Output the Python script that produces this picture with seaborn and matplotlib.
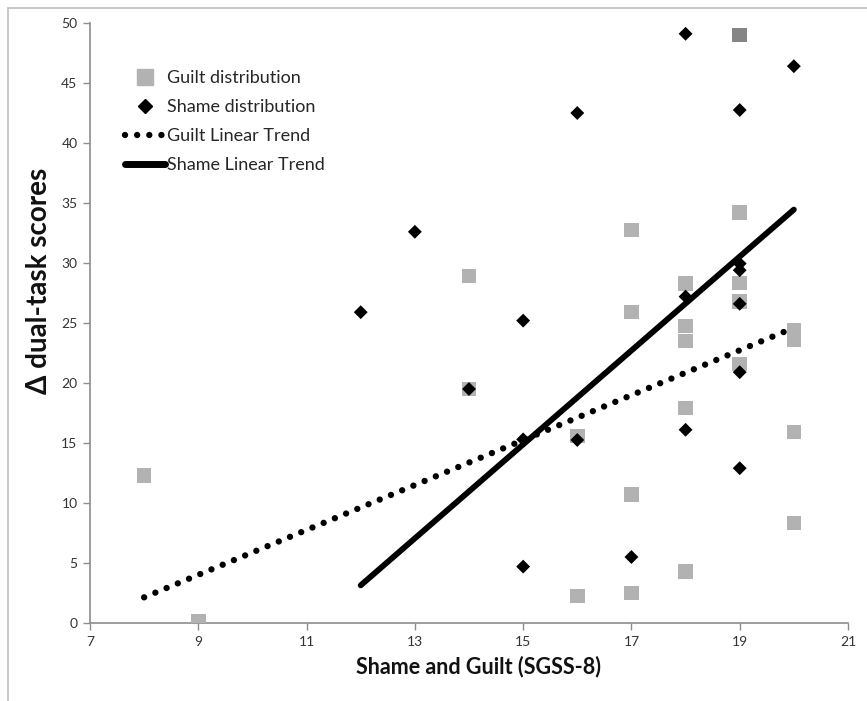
import numpy as np
import pandas as pd
import matplotlib
matplotlib.use("Agg")
import matplotlib.pyplot as plt
from matplotlib.lines import Line2D
import seaborn as sns

# ---- data ----
guilt_x = [8, 9, 14, 14, 16, 16, 17, 17, 17, 17, 18, 18, 18, 18, 18,
           19, 19, 19, 19, 19, 20, 20, 20, 20]
guilt_y = [12.3, 0.15, 28.9, 19.5, 15.6, 2.25, 32.75, 25.9, 10.7, 2.5,
           28.3, 24.75, 23.5, 17.9, 4.3, 49.0, 34.2, 28.35, 26.8, 21.6,
           24.4, 23.6, 15.9, 8.35]

shame_x = [12, 13, 14, 15, 15, 15, 16, 16, 17, 18, 18, 18,
           19, 19, 19, 19, 19, 19, 20]
shame_y = [25.9, 32.6, 19.5, 25.2, 15.3, 4.7, 42.5, 15.25, 5.5, 49.1,
           27.2, 16.1, 42.75, 29.95, 29.4, 26.6, 20.9, 12.9, 46.4]

guilt_trend_x = [8, 20]
guilt_trend_y = [2.14, 24.6]
shame_trend_x = [12, 20]
shame_trend_y = [3.14, 34.45]

x_ticks = [7, 9, 11, 13, 15, 17, 19, 21]
y_ticks = [0, 5, 10, 15, 20, 25, 30, 35, 40, 45, 50]

x_label = "Shame and Guilt (SGSS-8)"
y_label = "\u0394 dual-task scores"
labels = ["Guilt distribution", "Shame distribution",
          "Guilt Linear Trend", "Shame Linear Trend"]

# ---- plotting ----
sns.set_theme(style="white")
plt.rcParams["font.family"] = ["Lato", "DejaVu Sans"]

fig = plt.figure(figsize=(8.67, 7.01), dpi=100)
ax = fig.add_axes([90 / 867, 1 - 623 / 701, 758 / 867, 600 / 701])

gdf = pd.DataFrame({"x": guilt_x, "y": guilt_y})
sdf = pd.DataFrame({"x": shame_x, "y": shame_y})
gtdf = pd.DataFrame({"x": guilt_trend_x, "y": guilt_trend_y})
stdf = pd.DataFrame({"x": shame_trend_x, "y": shame_trend_y})

dot_style = (0, (0.001, 1.9))

sns.scatterplot(data=gdf, x="x", y="y", ax=ax, marker="s", s=110,
                color="#b2b2b2", edgecolor="none", linewidth=0,
                legend=False, zorder=3)
# darker rendering of the top guilt point at (19, 49)
top = gdf[gdf["y"] == gdf["y"].max()]
sns.scatterplot(data=top, x="x", y="y", ax=ax, marker="s", s=110,
                color="#858585", edgecolor="none", linewidth=0,
                legend=False, zorder=3)
sns.scatterplot(data=sdf, x="x", y="y", ax=ax, marker="D", s=50,
                color="black", edgecolor="none", linewidth=0,
                legend=False, zorder=4)
sns.lineplot(data=gtdf, x="x", y="y", ax=ax, color="black", lw=4.6,
             linestyle=dot_style, dash_capstyle="round",
             legend=False, zorder=5)
sns.lineplot(data=stdf, x="x", y="y", ax=ax, color="black", lw=4.2,
             solid_capstyle="round", legend=False, zorder=5)

ax.set_xlim(7, 21)
ax.set_ylim(0, 50)
ax.set_xticks(x_ticks)
ax.set_yticks(y_ticks)
ax.set_xticklabels([str(t) for t in x_ticks], fontsize=10, color="#333333")
ax.set_yticklabels([str(t) for t in y_ticks], fontsize=10, color="#333333")
ax.tick_params(axis="both", direction="out", length=5, width=1,
               color="#8c8c8c", pad=4)
ax.tick_params(axis="x", bottom=True)
ax.tick_params(axis="y", left=True)
for side in ["top", "right"]:
    ax.spines[side].set_visible(False)
for side in ["left", "bottom"]:
    ax.spines[side].set_color("#8c8c8c")
    ax.spines[side].set_linewidth(1.2)
ax.grid(False)

ax.set_xlabel(x_label, fontsize=15.5, fontweight="bold", color="#111111")
ax.xaxis.set_label_coords((478 - 90) / 758, (623 - 656) / 600)
ax.set_ylabel(y_label, fontsize=20, fontweight="bold", color="#111111")
ax.yaxis.set_label_coords((52 - 90) / 758, (623 - 281) / 600)

handles = [
    Line2D([], [], marker="s", color="#b2b2b2", linestyle="none",
           markersize=11),
    Line2D([], [], marker="D", color="black", linestyle="none",
           markersize=7),
    Line2D([], [], color="black", lw=4.6, linestyle=dot_style,
           dash_capstyle="round"),
    Line2D([], [], color="black", lw=5),
]
ax.legend(handles, labels, loc="upper left",
          bbox_to_anchor=((125 - 90) / 758, (623 - 70) / 600),
          frameon=False, fontsize=13, handlelength=2.2,
          handletextpad=0.1, labelspacing=0.72, borderpad=0,
          borderaxespad=0)

# light figure frame (left and top edges)
fig.add_artist(Line2D([8 / 867, 8 / 867], [0, 1 - 8 / 701],
                      color="#bdbdbd", lw=1.2, transform=fig.transFigure))
fig.add_artist(Line2D([8 / 867, 1], [1 - 8 / 701, 1 - 8 / 701],
                      color="#bdbdbd", lw=1.2, transform=fig.transFigure))

fig.savefig("out.png", dpi=100)
